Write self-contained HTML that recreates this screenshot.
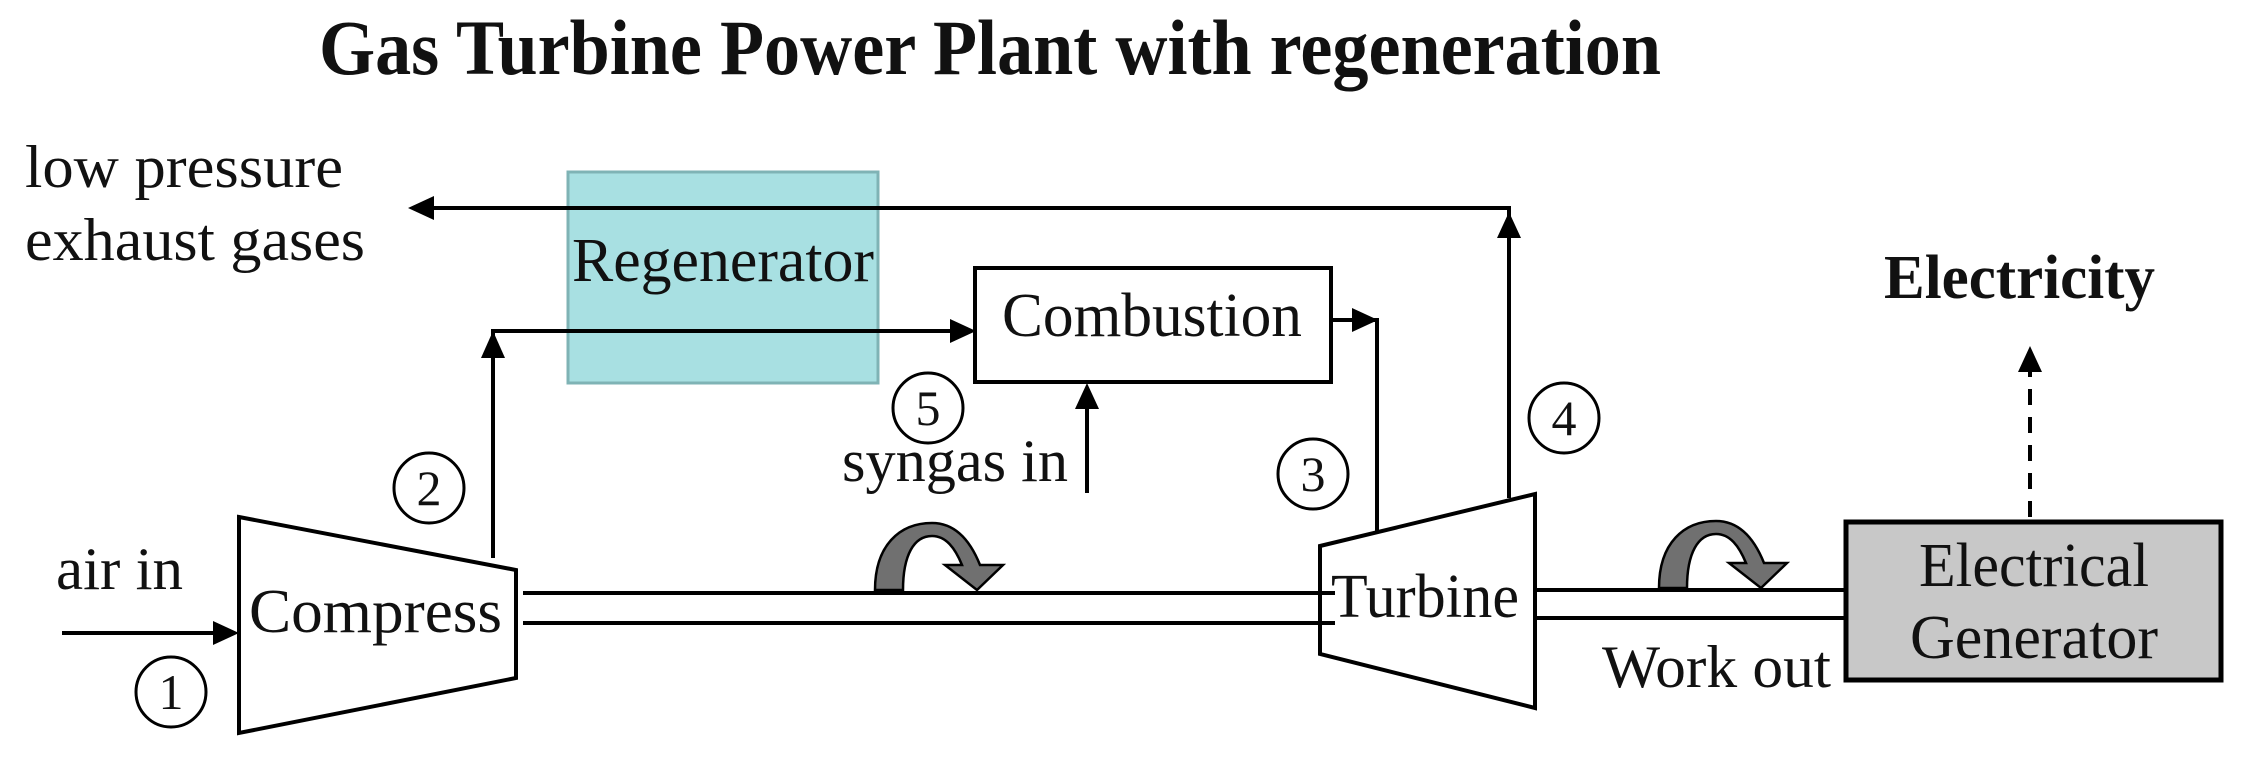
<!DOCTYPE html>
<html><head><meta charset="utf-8"><style>
html,body{margin:0;padding:0;background:#fff;}
svg{display:block;}
text{font-family:"Liberation Serif",serif;fill:#111;}
</style></head><body>
<svg width="2247" height="757" viewBox="0 0 2247 757" xmlns="http://www.w3.org/2000/svg">
<text x="319" y="74" font-size="78" font-weight="bold" textLength="1342" lengthAdjust="spacingAndGlyphs">Gas Turbine  Power Plant with regeneration</text>

<!-- regenerator -->
<rect x="568" y="172" width="310" height="211" fill="#a8e0e2" stroke="#7fb3b5" stroke-width="3"/>
<text x="572" y="281" font-size="62" textLength="302" lengthAdjust="spacingAndGlyphs">Regenerator</text>

<!-- exhaust -->
<text x="25" y="187" font-size="60" textLength="318" lengthAdjust="spacingAndGlyphs">low pressure</text>
<text x="25" y="260" font-size="60" textLength="340" lengthAdjust="spacingAndGlyphs">exhaust gases</text>
<polyline points="1509,498 1509,208 430,208" fill="none" stroke="#000" stroke-width="4"/>
<polygon points="408,208 434,196 434,220" fill="#000"/>
<polygon points="1509,212 1497,238 1521,238" fill="#000"/>

<!-- compressor to combustion -->
<polyline points="493,558 493,331 955,331" fill="none" stroke="#000" stroke-width="4"/>
<polygon points="493,331 481,358 505,358" fill="#000"/>
<polygon points="976,331 950,319 950,343" fill="#000"/>

<!-- combustion -->
<rect x="975" y="268" width="356" height="114" fill="#fff" stroke="#000" stroke-width="4"/>
<text x="1002" y="336" font-size="62" textLength="300" lengthAdjust="spacingAndGlyphs">Combustion</text>
<polyline points="1331,320 1377,320 1377,531" fill="none" stroke="#000" stroke-width="4"/>
<polygon points="1378,320 1352,308 1352,332" fill="#000"/>

<!-- syngas -->
<line x1="1087" y1="493" x2="1087" y2="400" stroke="#000" stroke-width="4"/>
<polygon points="1087,383 1075,409 1099,409" fill="#000"/>
<text x="842" y="481" font-size="60" textLength="226" lengthAdjust="spacingAndGlyphs">syngas in</text>

<!-- circles -->
<g fill="#fff" stroke="#000" stroke-width="3">
<circle cx="928" cy="408" r="35"/>
<circle cx="429" cy="488" r="35"/>
<circle cx="171" cy="692" r="35"/>
<circle cx="1313" cy="474" r="35"/>
<circle cx="1564" cy="418" r="35"/>
</g>
<g font-size="50" text-anchor="middle">
<text x="928" y="425">5</text>
<text x="429" y="505">2</text>
<text x="171" y="709">1</text>
<text x="1313" y="491">3</text>
<text x="1564" y="435">4</text>
</g>

<!-- air in -->
<text x="56" y="589" font-size="60" textLength="127" lengthAdjust="spacingAndGlyphs">air in</text>
<line x1="62" y1="633" x2="215" y2="633" stroke="#000" stroke-width="4"/>
<polygon points="239,633 213,621 213,645" fill="#000"/>

<!-- shafts -->
<g stroke="#000" stroke-width="4">
<line x1="523" y1="593" x2="1322" y2="593"/>
<line x1="523" y1="623" x2="1322" y2="623"/>
<line x1="1535" y1="590" x2="1846" y2="590"/>
<line x1="1535" y1="618" x2="1846" y2="618"/>
</g>

<!-- compressor -->
<polygon points="239,517 516,570 516,678 239,733" fill="#fff" stroke="#000" stroke-width="4"/>
<text x="249" y="632" font-size="62" textLength="253" lengthAdjust="spacingAndGlyphs">Compress</text>

<!-- turbine -->
<polygon points="1320,546 1535,494 1535,708 1320,654" fill="#fff" stroke="#000" stroke-width="4"/>
<line x1="1310" y1="593" x2="1335" y2="593" stroke="#000" stroke-width="4"/>
<line x1="1310" y1="623" x2="1335" y2="623" stroke="#000" stroke-width="4"/>
<text x="1331" y="617" font-size="62" textLength="188" lengthAdjust="spacingAndGlyphs">Turbine</text>

<!-- rotation arrows -->
<path d="M875,590 C875,545 900,523 932,523 C958,523 972,545 980,565 L1003,565 L977,590 L945,565 L962,565 C955,548 946,536 932,536 C914,536 903,555 903,590 Z" fill="#707070" stroke="#000" stroke-width="2.5"/>
<path transform="translate(784,-2)" d="M875,590 C875,545 900,523 932,523 C958,523 972,545 980,565 L1003,565 L977,590 L945,565 L962,565 C955,548 946,536 932,536 C914,536 903,555 903,590 Z" fill="#707070" stroke="#000" stroke-width="2.5"/>

<!-- generator -->
<rect x="1846" y="522" width="375" height="158" fill="#c8c8c8" stroke="#000" stroke-width="5"/>
<text x="2034" y="586" font-size="62" text-anchor="middle" textLength="230" lengthAdjust="spacingAndGlyphs">Electrical</text>
<text x="2034" y="658" font-size="62" text-anchor="middle" textLength="248" lengthAdjust="spacingAndGlyphs">Generator</text>
<text x="1602" y="687" font-size="60" textLength="229" lengthAdjust="spacingAndGlyphs">Work out</text>

<!-- electricity -->
<line x1="2030" y1="517" x2="2030" y2="370" stroke="#000" stroke-width="4" stroke-dasharray="16,12"/>
<polygon points="2030,346 2018,372 2042,372" fill="#000"/>
<text x="1884" y="298" font-size="62" font-weight="bold" textLength="271" lengthAdjust="spacingAndGlyphs">Electricity</text>
</svg>
</body></html>
